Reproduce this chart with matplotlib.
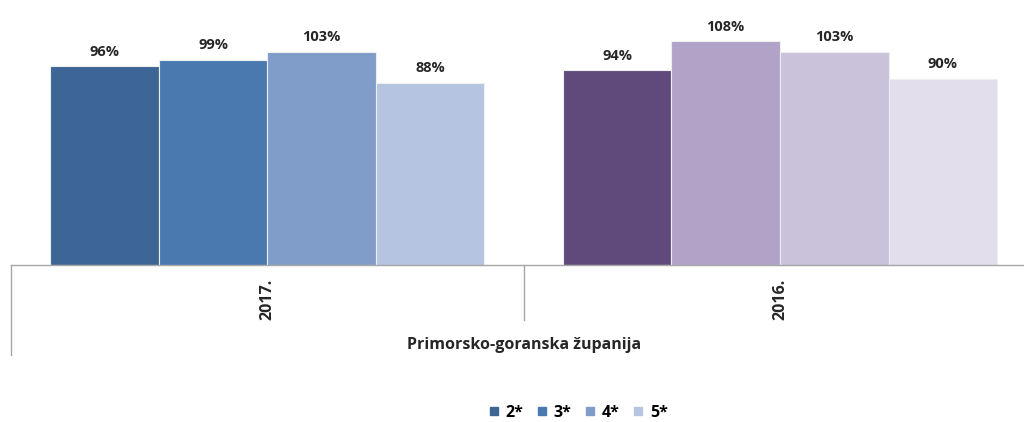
import matplotlib
matplotlib.use("Agg")
import matplotlib.pyplot as plt
from matplotlib.lines import Line2D
import numpy as np

years = ["2017.", "2016."]
series = ["2*", "3*", "4*", "5*"]
values = {
    "2017.": [96, 99, 103, 88],
    "2016.": [94, 108, 103, 90],
}
colors = {
    "2017.": ["#3D6595", "#4A79B0", "#7F9DC8", "#B5C4E0"],
    "2016.": ["#5F4A7B", "#B1A3C8", "#CAC1DB", "#E3DEEB"],
}
region = "Primorsko-goranska županija"

plt.rcParams['font.family'] = ['Open Sans', 'DejaVu Sans']

fig = plt.figure(figsize=(10.24, 4.22), dpi=100)
ax = fig.add_axes([11/1024, 1 - 265/422, 1013/1024, 265/422])

bw = 108.5 / 512.5
for gi, yr in enumerate(years):
    for si, v in enumerate(values[yr]):
        x = gi + (si - 1.5) * bw
        ax.bar(x, v, width=bw, color=colors[yr][si], edgecolor="#EEEEEE", linewidth=0.8)
        ax.annotate(f"{v}%", (x, v), xytext=(0, 10.5), textcoords="offset points",
                    ha="center", va="center", fontsize=10.5, fontweight="bold", color="#262626")

ax.set_xlim(-0.5, 1.476)
ax.set_ylim(0, 128)
ax.set_xticks([])
ax.set_yticks([])
for s in ["top", "right", "left"]:
    ax.spines[s].set_visible(False)
ax.spines["bottom"].set_color("#A6A6A6")
ax.spines["bottom"].set_linewidth(1)

tr = ax.get_xaxis_transform()
ax.add_line(Line2D([-0.5, -0.5], [0, -90/265], transform=tr, color="#A6A6A6", lw=1, clip_on=False))
ax.add_line(Line2D([0.5, 0.5], [0, -55/265], transform=tr, color="#A6A6A6", lw=1, clip_on=False))

for gi, yr in enumerate(years):
    ax.text(gi, -34/265, yr, transform=tr, rotation=90, ha="center", va="center",
            fontsize=11.5, fontweight="bold", color="#262626")
ax.text(0.5, -80/265, region, transform=tr, ha="center", va="center",
        fontsize=11.5, fontweight="bold", color="#262626")

handles = [Line2D([], [], marker="s", linestyle="none", markersize=6,
                  markerfacecolor=c, markeredgecolor=c) for c in colors["2017."]]
fig.legend(handles, series, loc="center", bbox_to_anchor=(577/1024, 1 - 413/422), ncol=4,
           frameon=False, prop={"weight": "bold", "size": 11.5}, handletextpad=0.25,
           columnspacing=0.65, handlelength=1.0)

fig.savefig("out.png", dpi=100)
